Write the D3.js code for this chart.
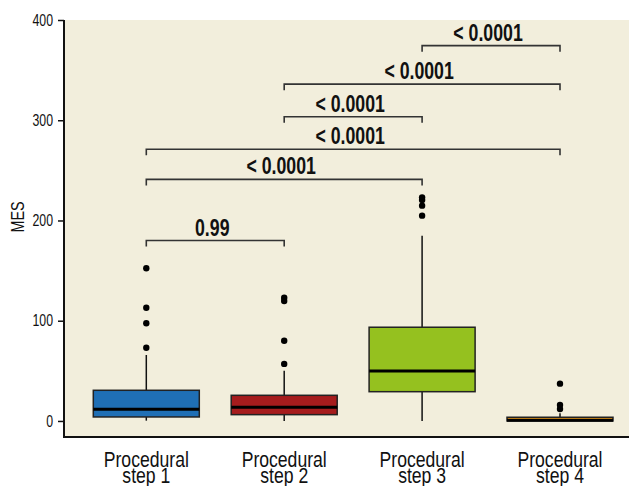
<!DOCTYPE html>
<html lang="en">
  <head>
    <meta charset="UTF-8">
    <title>MES by procedural step</title>
    <style>
      body { margin: 0; background: #fff; }
      text { font-family: "Liberation Sans", Arial, sans-serif; fill: #111; }
      .tick text { font-size: 16px; }
      .pval { font-size: 23px; font-weight: bold; }
      .xlab { font-size: 22px; }
      .bracket { stroke: #333; stroke-width: 1.6; fill: none; }
    </style>
  </head>
  <body>
    <svg id="chart"></svg>

    <script src="https://cdn.jsdelivr.net/npm/d3@7"></script>

    <script>
      // box statistics per step (MES units)
      var categories = ["Procedural step 1", "Procedural step 2", "Procedural step 3", "Procedural step 4"];
      var whiskerLow = [0.3, 0, 0, 0];
      var q1 = [4, 6.3, 29.2, 0];
      var median = [11.7, 13.7, 49.9, 0.6];
      var q3 = [30.6, 25.6, 93.5, 3.7];
      var whiskerHigh = [65.8, 50.2, 184.8, 7.7];
      var outliers = [
        [152.3, 113, 97.5, 73],
        [123, 119.7, 80, 56.9],
        [223.1, 220.4, 214.8, 204.8],
        [37.2, 16, 12]
      ];
      var colors = ["#1f6fb5", "#a61c1d", "#95c11f", "#f4a11c"];

      // pairwise comparisons, drawn from top to bottom
      var pairs = [[2, 3], [1, 3], [1, 2], [0, 3], [0, 2], [0, 1]];
      var pLabels = ["< 0.0001", "< 0.0001", "< 0.0001", "< 0.0001", "< 0.0001", "0.99"];
      var bracketLevel = [374.4, 336, 303.5, 271, 241, 180];

      var yTicks = [0, 100, 200, 300, 400];

      var W = 632, H = 486;
      var m = { left: 64, right: 629, top: 20, bottom: 437 };

      var svg = d3.select("#chart").attr("width", W).attr("height", H);

      var x = d3.scalePoint()
          .domain(categories)
          .range([146.3, 560]);

      var y = d3.scaleLinear()
          .domain([-16, 400])
          .range([m.bottom, m.top]);

      var boxW = 106;

      // the figure uses a condensed face, so squeeze text horizontally
      function narrowText(parent, tx, ty, k, cls) {
        return parent.append("text")
            .attr("class", cls)
            .attr("text-anchor", "middle")
            .attr("transform", "translate(" + tx + "," + ty + ") scale(" + k + ",1)");
      }

      svg.append("rect")
          .attr("x", m.left).attr("y", m.top)
          .attr("width", m.right - m.left).attr("height", m.bottom - m.top)
          .attr("fill", "#f2eedc");

      var boxes = categories.map(function(c, i) {
        return { name: c, lo: whiskerLow[i], q1: q1[i], med: median[i], q3: q3[i], hi: whiskerHigh[i], out: outliers[i], color: colors[i] };
      });

      var g = svg.selectAll(".box")
        .data(boxes)
        .enter().append("g")
          .attr("class", "box")
          .attr("transform", function(d) { return "translate(" + x(d.name) + ",0)"; });

      // whiskers
      g.append("line")
          .attr("x1", 0).attr("x2", 0)
          .attr("y1", function(d) { return y(d.hi); })
          .attr("y2", function(d) { return y(d.q3); })
          .attr("stroke", "#111").attr("stroke-width", 1.5);

      g.append("line")
          .attr("x1", 0).attr("x2", 0)
          .attr("y1", function(d) { return y(d.q1); })
          .attr("y2", function(d) { return y(d.lo); })
          .attr("stroke", "#111").attr("stroke-width", 1.5);

      g.append("rect")
          .attr("x", -boxW / 2)
          .attr("width", boxW)
          .attr("y", function(d) { return y(d.q3); })
          .attr("height", function(d) { return y(d.q1) - y(d.q3); })
          .attr("fill", function(d) { return d.color; })
          .attr("stroke", "#222").attr("stroke-width", 1.5);

      g.append("line")
          .attr("x1", -boxW / 2).attr("x2", boxW / 2)
          .attr("y1", function(d) { return y(d.med); })
          .attr("y2", function(d) { return y(d.med); })
          .attr("stroke", "#000").attr("stroke-width", 3);

      g.selectAll(".out")
        .data(function(d) { return d.out; })
        .enter().append("circle")
          .attr("class", "out")
          .attr("cx", 0)
          .attr("cy", function(v) { return y(v); })
          .attr("r", 3.2)
          .attr("fill", "#000");

      // significance brackets
      var tickLen = 6;
      pairs.forEach(function(p, i) {
        var x1 = x(categories[p[0]]), x2 = x(categories[p[1]]), yy = y(bracketLevel[i]);
        svg.append("path")
            .attr("class", "bracket")
            .attr("d", "M" + x1 + "," + (yy + tickLen) + "V" + yy + "H" + x2 + "V" + (yy + tickLen));
        narrowText(svg, (x1 + x2) / 2 - 3, yy - 5, 0.77, "pval").text(pLabels[i]);
      });

      // axes
      var pad = 5, tk = 0.77;
      svg.append("g")
          .attr("transform", "translate(" + m.left + ",0)")
          .call(d3.axisLeft(y).tickValues(yTicks).tickSize(6).tickPadding(pad))
          .call(function(a) { a.select(".domain").remove(); })
          .call(function(a) { a.selectAll(".tick line").attr("stroke", "#111").attr("stroke-width", 1.5); })
          .call(function(a) {
            a.selectAll(".tick text")
                .attr("x", -(6 + pad) / tk)
                .attr("transform", "scale(" + tk + ",1)");
          });

      svg.append("line")
          .attr("x1", m.left).attr("x2", m.left)
          .attr("y1", m.top).attr("y2", m.bottom + 1)
          .attr("stroke", "#111").attr("stroke-width", 2);

      svg.append("line")
          .attr("x1", m.left - 1).attr("x2", m.right)
          .attr("y1", m.bottom).attr("y2", m.bottom)
          .attr("stroke", "#111").attr("stroke-width", 2);

      categories.forEach(function(c) {
        var words = c.split(" ");
        var t = narrowText(svg, x(c), 466.5, 0.8, "xlab");
        t.append("tspan").attr("x", 0).text(words[0]);
        t.append("tspan").attr("x", 0).attr("dy", 16).text(words.slice(1).join(" "));
      });

      svg.append("text")
          .attr("transform", "translate(24,217) rotate(-90) scale(0.8,1)")
          .attr("text-anchor", "middle")
          .style("font-size", "18px")
          .text("MES");
    </script>
  </body>
</html>
